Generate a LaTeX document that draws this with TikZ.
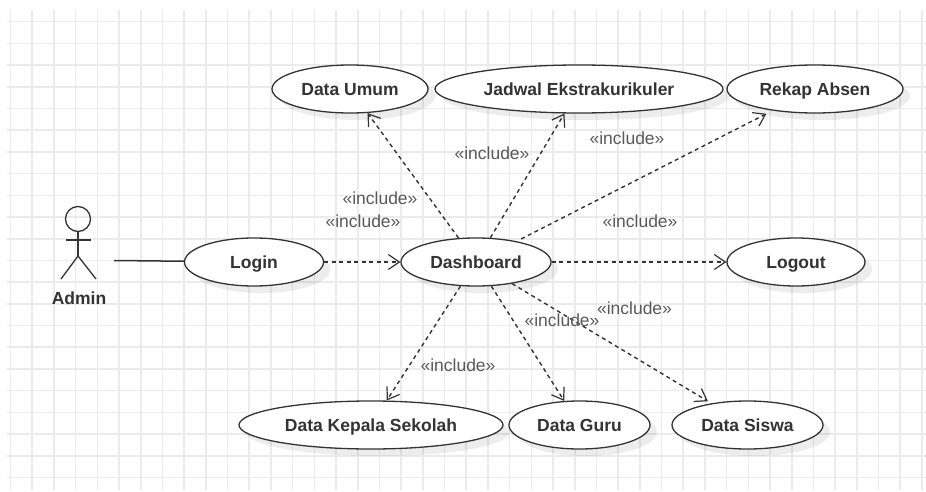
\documentclass[tikz,border=0pt]{standalone}
\usepackage{fontspec}
\setmainfont{Liberation Sans}
\usetikzlibrary{arrows.meta,shapes.geometric,shadows}
\definecolor{gridgray}{HTML}{EBEBEB}
\definecolor{inkgray}{HTML}{333333}
\tikzset{
	usecase/.style={ellipse, draw=inkgray, fill=white, line width=1.3pt, inner sep=0pt, minimum height=48pt,
		font=\fontsize{17.5}{18}\selectfont\bfseries, text=inkgray, text height=13pt, text depth=0pt,
		drop shadow={shadow xshift=7pt, shadow yshift=-7pt, fill=black, opacity=0.07}},
	includeedge/.style={draw=inkgray, line width=1.4pt, dash pattern=on 4pt off 3.5pt, -{Straight Barb[length=11pt,width=15pt,line width=1.2pt]}},
	includetag/.style={font=\fontsize{17.5}{18}\selectfont, text=black!65, inner sep=1pt},
	stick/.style={draw=inkgray, line width=1.3pt},
}
\begin{document}
\begin{tikzpicture}[x=1pt,y=-1pt]
	\useasboundingbox (0,0) rectangle (926,492);
	\foreach \gridx in {0,...,42} {
		\draw[gridgray, line width=1.6pt] ({10.5+21.7*\gridx},10) -- ({10.5+21.7*\gridx},490);
	}
	\foreach \gridy in {0,...,21} {
		\draw[gridgray, line width=1.6pt] (7,{21.7+21.7*\gridy}) -- (926,{21.7+21.7*\gridy});
	}
	\node[usecase, minimum width=156pt] (umum)		at	(350, 89)	{Data Umum};
	\node[usecase, minimum width=288pt] (jadwal)	at	(579, 89)	{Jadwal Ekstrakurikuler};
	\node[usecase, minimum width=176pt] (rekap)		at	(815, 89)	{Rekap Absen};
	\node[usecase, minimum width=139pt] (login)		at	(254, 262)	{Login};
	\node[usecase, minimum width=150pt] (dash)		at	(476, 262)	{Dashboard};
	\node[usecase, minimum width=138pt] (logout)	at	(796, 262)	{Logout};
	\node[usecase, minimum width=264pt] (kepala)	at	(371, 425)	{Data Kepala Sekolah};
	\node[usecase, minimum width=141pt] (guru)		at	(579.5, 425)	{Data Guru};
	\node[usecase, minimum width=151pt] (siswa)		at	(747.5, 425)	{Data Siswa};
	\node[circle, stick, inner sep=0pt, minimum size=25pt] (adminhead)	at	(78, 219)	{};
	\coordinate (adminhip)	at	(78, 256);
	\coordinate (adminarml)	at	(66, 240);
	\coordinate (adminarmr)	at	(91, 240);
	\coordinate (adminlegl)	at	(61, 279);
	\coordinate (adminlegr)	at	(96, 279);
	\coordinate (adminend)	at	(114, 260.5);
	\node[font=\fontsize{17.5}{18}\selectfont\bfseries, text=inkgray, inner sep=0pt] (admin)	at	(79, 298)	{Admin};
	\draw[stick] (adminhead) -- (adminhip);
	\draw[stick] (adminarml) -- (adminarmr);
	\draw[stick] (adminlegl) -- (adminhip) -- (adminlegr);
	\draw[stick, line width=1.5pt] (adminend) -- (login);
	\draw[includeedge] (login) -- (dash);
	\draw[includeedge] (dash) -- (umum);
	\draw[includeedge] (dash) -- (jadwal);
	\draw[includeedge, shorten >=7pt, shorten <=5pt] (dash) -- (rekap);
	\draw[includeedge] (dash) -- (logout);
	\draw[includeedge] (dash) -- (kepala);
	\draw[includeedge] (dash) -- (guru);
	\draw[includeedge, shorten >=4pt] (dash) -- (siswa);
	\node[includetag] (tagumum)		at	(380, 198)	{«include»};
	\node[includetag] (tagkepala)	at	(363, 221)	{«include»};
	\node[includetag] (tagjadwal)	at	(492, 153)	{«include»};
	\node[includetag] (tagrekap)	at	(627, 138)	{«include»};
	\node[includetag] (taglogout)	at	(640, 221)	{«include»};
	\node[includetag] (tagguru)		at	(562, 320)	{«include»};
	\node[includetag] (tagsiswa)	at	(634.5, 308)	{«include»};
	\node[includetag] (taglow)		at	(458, 365)	{«include»};
\end{tikzpicture}
\end{document}
